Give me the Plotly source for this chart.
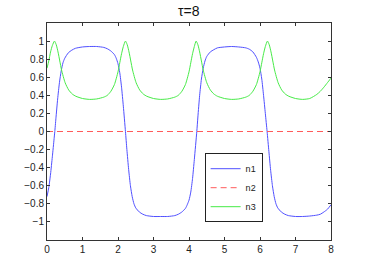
import plotly.graph_objects as go

# n1 samples (time, value)
t1 = [0, 0.05, 0.10, 0.15, 0.20, 0.22, 0.25, 0.30, 0.35, 0.40, 0.45, 0.50, 0.60, 0.70, 0.80, 1.0, 1.2, 1.4,
      1.6, 1.7, 1.8, 1.9, 1.95, 2.0, 2.05, 2.10, 2.15, 2.21, 2.25, 2.30, 2.35, 2.40, 2.45, 2.50, 2.60, 2.70,
      2.80, 3.0, 3.2, 3.4, 3.6, 3.7, 3.8, 3.9, 3.95, 4.0, 4.05, 4.10, 4.15, 4.22, 4.25, 4.30, 4.35, 4.40,
      4.45, 4.50, 4.60, 4.70, 4.80, 5.0, 5.2, 5.4, 5.6, 5.7, 5.8, 5.9, 5.95, 6.0, 6.05, 6.10, 6.15, 6.20,
      6.25, 6.30, 6.35, 6.40, 6.45, 6.50, 6.60, 6.70, 6.80, 7.0, 7.2, 7.4, 7.6, 7.7, 7.8, 7.9, 8.0]
n1 = [-0.72, -0.62, -0.47, -0.28, -0.08, 0.0, 0.14, 0.36, 0.54, 0.67, 0.76, 0.81, 0.87, 0.90, 0.92, 0.935, 0.94, 0.94,
      0.93, 0.915, 0.89, 0.85, 0.81, 0.75, 0.65, 0.49, 0.28, 0.0, -0.20, -0.42, -0.60, -0.72, -0.80, -0.845, -0.89, -0.915,
      -0.93, -0.94, -0.94, -0.94, -0.93, -0.915, -0.89, -0.85, -0.81, -0.76, -0.67, -0.52, -0.31, 0.0, 0.16, 0.40, 0.58, 0.70,
      0.78, 0.83, 0.88, 0.905, 0.925, 0.935, 0.94, 0.935, 0.925, 0.91, 0.88, 0.82, 0.77, 0.70, 0.58, 0.40, 0.20, 0.0,
      -0.22, -0.43, -0.60, -0.72, -0.80, -0.845, -0.89, -0.915, -0.93, -0.94, -0.94, -0.935, -0.925, -0.915, -0.89, -0.86, -0.81]

# n2 samples
t2 = [0, 8]
n2 = [0, 0]

# n3 samples
t3 = [0, 0.05, 0.10, 0.15, 0.21, 0.26, 0.31, 0.36, 0.41, 0.51, 0.61, 0.71, 0.81, 1.0, 1.2, 1.4, 1.6, 1.7, 1.8, 1.9,
      2.0, 2.05, 2.10, 2.15, 2.21, 2.26, 2.31, 2.36, 2.41, 2.51, 2.61, 2.71, 2.81, 3.0, 3.2, 3.4, 3.6, 3.7, 3.8, 3.9,
      4.0, 4.05, 4.10, 4.15, 4.20, 4.25, 4.30, 4.35, 4.40, 4.50, 4.60, 4.70, 4.80, 5.0, 5.2, 5.4, 5.6, 5.7, 5.8, 5.9,
      6.0, 6.05, 6.10, 6.15, 6.21, 6.26, 6.31, 6.36, 6.41, 6.51, 6.61, 6.71, 6.81, 7.0, 7.2, 7.4, 7.6, 7.7, 7.8, 7.9, 8.0]
n3 = [0.70, 0.78, 0.88, 0.95, 1.0, 0.96, 0.88, 0.78, 0.68, 0.54, 0.46, 0.415, 0.39, 0.365, 0.355, 0.36, 0.38, 0.40, 0.445, 0.52,
      0.66, 0.76, 0.86, 0.94, 1.0, 0.96, 0.88, 0.78, 0.68, 0.54, 0.46, 0.415, 0.39, 0.365, 0.355, 0.36, 0.38, 0.40, 0.445, 0.52,
      0.66, 0.76, 0.86, 0.94, 1.0, 0.96, 0.88, 0.78, 0.68, 0.54, 0.46, 0.415, 0.39, 0.365, 0.355, 0.36, 0.38, 0.40, 0.445, 0.52,
      0.66, 0.76, 0.86, 0.94, 1.0, 0.96, 0.88, 0.78, 0.68, 0.54, 0.46, 0.415, 0.39, 0.365, 0.355, 0.365, 0.41, 0.445, 0.49, 0.54, 0.59]

x_ticks = [0, 1, 2, 3, 4, 5, 6, 7, 8]
y_ticks = [-1, -0.8, -0.6, -0.4, -0.2, 0, 0.2, 0.4, 0.6, 0.8, 1]
y_labels = ["\u22121", "\u22120.8", "\u22120.6", "\u22120.4", "\u22120.2", "0", "0.2", "0.4", "0.6", "0.8", "1"]

FONT = "Liberation Sans, Arial, Helvetica, sans-serif"

fig = go.Figure()
fig.add_trace(go.Scatter(x=t1, y=n1, mode="lines", name="n1", line=dict(color="rgb(80,80,255)", width=1, shape="spline", smoothing=0.6)))
fig.add_trace(go.Scatter(x=t2, y=n2, mode="lines", name="n2", line=dict(color="rgb(255,90,90)", width=1, dash="6px,4px")))
fig.add_trace(go.Scatter(x=t3, y=n3, mode="lines", name="n3", line=dict(color="rgb(70,235,70)", width=1, shape="spline", smoothing=0.6)))

axis_common = dict(showline=True, linecolor="#333", linewidth=1, mirror="ticks", ticks="inside", ticklen=3,
                   tickcolor="#333", showgrid=False, zeroline=False, tickfont=dict(size=10, color="#222", family=FONT))
fig.update_xaxes(range=[0, 8], tickvals=x_ticks, ticktext=[str(v) for v in x_ticks], **axis_common)
fig.update_yaxes(range=[-1.2, 1.2], tickvals=y_ticks, ticktext=y_labels, **axis_common)

fig.update_layout(
    width=366, height=271,
    margin=dict(l=47, r=35, t=23, b=31),
    paper_bgcolor="white", plot_bgcolor="white",
    title=dict(text="\u03c4=8", x=0.516, xanchor="center", y=0.96, yanchor="middle",
               font=dict(size=14, color="#111", family=FONT)),
    font=dict(family=FONT),
    showlegend=True,
    legend=dict(x=0.555, y=0.40, xanchor="left", yanchor="top", bgcolor="white", bordercolor="#222",
                borderwidth=1, font=dict(size=9, color="#222", family=FONT), tracegroupgap=0,
                itemwidth=30),
)

# remove the default page margin so the figure sits at the window origin
fig.write_html("out.html", config={"displayModeBar": False},
               post_script="document.body.style.margin='0';")
